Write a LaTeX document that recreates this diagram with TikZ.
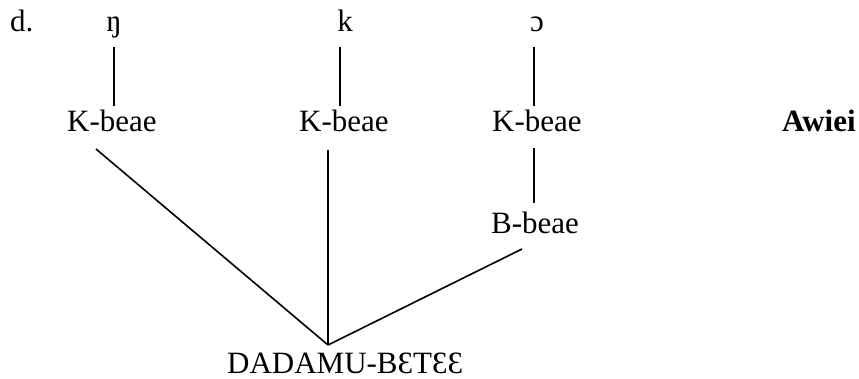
\documentclass[tikz,border=0pt]{standalone}
\usepackage{fontspec}
\setmainfont{Liberation Serif}
\begin{document}
\begin{tikzpicture}[x=1pt,y=-1pt,
  lbl/.style={inner sep=0pt,anchor=base west,font=\fontsize{31}{36}\selectfont},
  sym/.style={inner sep=0pt,anchor=base,font=\fontsize{31}{36}\selectfont},
  tree/.style={line width=1.6pt,black}]
\useasboundingbox (0,0) rectangle (859,379);
\node[lbl] (d) at (10,32) {d.};
\node[sym] (eta) at (114,32) {ŋ};
\node[sym] (k) at (345,32) {k};
\node[sym] (oo) at (537,32) {ɔ};
\node[lbl] (K1) at (67,132) {K-beae};
\node[lbl] (K2) at (299,132) {K-beae};
\node[lbl] (K3) at (492,132) {K-beae};
\node[lbl,font=\fontsize{31}{36}\selectfont\bfseries] (aw) at (782,132) {Awiei};
\node[lbl] (B) at (491,234) {B-beae};
\node[lbl] (D) at (227,373) {DADAMU-BƐTƐƐ};
\coordinate (etaB) at (114,47);
\coordinate (K1T) at (114,106);
\coordinate (kB) at (340,47);
\coordinate (K2T) at (340,106);
\coordinate (ooB) at (534,47);
\coordinate (K3T) at (534,106);
\coordinate (K3B) at (534,148);
\coordinate (BT) at (534,203);
\coordinate (K1B) at (96,149);
\coordinate (K2B) at (328,150);
\coordinate (BB) at (522,249);
\coordinate (apex) at (328,345);
\draw[tree] (etaB) -- (K1T);
\draw[tree] (kB) -- (K2T);
\draw[tree] (ooB) -- (K3T);
\draw[tree] (K3B) -- (BT);
\draw[tree] (K1B) -- (apex);
\draw[tree] (K2B) -- (apex);
\draw[tree] (BB) -- (apex);
\end{tikzpicture}
\end{document}
